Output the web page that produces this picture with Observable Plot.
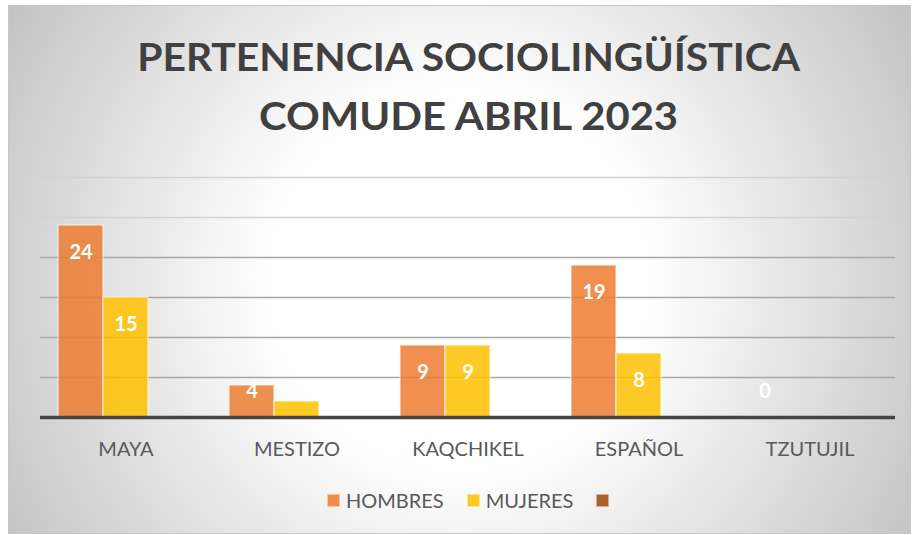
<!DOCTYPE html>
<html>
<head>
<meta charset="utf-8">
<script src="https://cdn.jsdelivr.net/npm/d3@7"></script>
<script src="https://cdn.jsdelivr.net/npm/@observablehq/plot@0.6"></script>
<style>
  html, body { margin: 0; padding: 0; background: #ffffff; }
  body { width: 914px; height: 535px; position: relative; overflow: hidden; font-family: Lato, "Open Sans", sans-serif; }
  #chart {
    position: absolute; left: 8px; top: 5px; width: 903px; height: 529px; box-sizing: border-box;
    border: 1px solid #c8c8c8;
    background: radial-gradient(circle farthest-corner at 50% 52%, #ffffff 0%, #ffffff 36%, #c3c3c3 100%);
  }
  .tline { position: absolute; left: 0; width: 901px; text-align: center; font-weight: 700; color: #404040; font-size: 38px; line-height: 38px; white-space: nowrap; }
  .tline span { display: inline-block; transform-origin: center; }
  #plot { position: absolute; left: 0; top: 150px; }
  #legend { position: absolute; left: 318px; top: 484px; display: flex; align-items: center; height: 20px; font-size: 20px; line-height: 20px; color: #595959; }
  .item { display: flex; align-items: center; margin-right: 23px; }
  .sw { width: 13px; height: 13px; box-sizing: border-box; margin-right: 6px; border: 1.5px solid rgba(255,255,255,0.5); }
</style>
</head>
<body>
<div id="chart">
  <div class="tline" id="t1" style="top:31px"><span>PERTENENCIA SOCIOLINGÜÍSTICA</span></div>
  <div class="tline" id="t2" style="top:90px"><span>COMUDE ABRIL 2023</span></div>
  <div id="plot"></div>
  <div id="legend"></div>
</div>
<script>
const categories = ["MAYA", "MESTIZO", "KAQCHIKEL", "ESPAÑOL", "TZUTUJIL"];
const series = ["HOMBRES", "MUJERES", ""];
const hombres = [24, 4, 9, 19, 0];
const mujeres = [15, 2, 9, 8, null];
const hombresLabelShown = [true, true, true, true, true];
const mujeresLabelShown = [true, false, true, true, false];
const seriesColors = ["#ED7D31", "#FFC000", "#9E480E"];
const gridTicks = [5, 10, 15, 20, 25, 30];

const rows = [];
categories.forEach((c, i) => {
  if (hombres[i] != null) rows.push({cat: c, series: series[0], value: hombres[i], show: hombresLabelShown[i]});
  if (mujeres[i] != null) rows.push({cat: c, series: series[1], value: mujeres[i], show: mujeresLabelShown[i]});
});

const chart = Plot.plot({
  width: 901,
  height: 310,
  marginLeft: 30,
  marginRight: 14,
  marginTop: 21,
  marginBottom: 49,
  style: {background: "transparent", color: "#595959", fontFamily: "Lato, sans-serif", fontSize: "20px", overflow: "visible"},
  fx: {domain: categories, padding: 0, axis: "bottom", label: null, tickSize: 0, tickPadding: 24.5},
  x: {domain: series, paddingInner: 0, paddingOuter: 0.362, axis: null},
  y: {domain: [0, 30], axis: null},
  color: {domain: series, range: seriesColors},
  marks: [
    Plot.ruleY(gridTicks.filter(t => t <= 20), {stroke: "#a8a8a8", strokeWidth: 1.5}),
    Plot.ruleY(gridTicks.filter(t => t > 20), {stroke: "#d2d2d2", strokeWidth: 1.5}),
    Plot.barY(rows, {fx: "cat", x: "series", y: "value", fill: "series", fillOpacity: 0.85, stroke: "white", strokeOpacity: 0.55, strokeWidth: 1.5}),
    Plot.ruleY([0], {stroke: "#454545", strokeWidth: 3.5}),
    Plot.text(rows.filter(d => d.show), {fx: "cat", x: "series", y: d => Math.max(d.value, 6.7), dy: 27.5, text: d => String(d.value), fill: "white", fontWeight: "bold", fontSize: 20})
  ]
});
document.getElementById("plot").appendChild(chart);

// legend
const legend = document.getElementById("legend");
series.forEach((s, i) => {
  const item = document.createElement("div");
  item.className = "item";
  const sw = document.createElement("div");
  sw.className = "sw";
  sw.style.background = seriesColors[i];
  sw.style.opacity = 0.85;
  item.appendChild(sw);
  const t = document.createElement("span");
  t.textContent = s;
  item.appendChild(t);
  legend.appendChild(item);
});

// fit title widths (horizontal condensation to match the reference's narrow face)
const targets = {t1: 663, t2: 419};
const shift = 9;
for (const id of ["t1", "t2"]) {
  const span = document.querySelector("#" + id + " span");
  const w = span.getBoundingClientRect().width;
  const k = targets[id] / w;
  span.style.transform = `translateX(${shift}px) scaleX(${k})`;
}
</script>
</body>
</html>
